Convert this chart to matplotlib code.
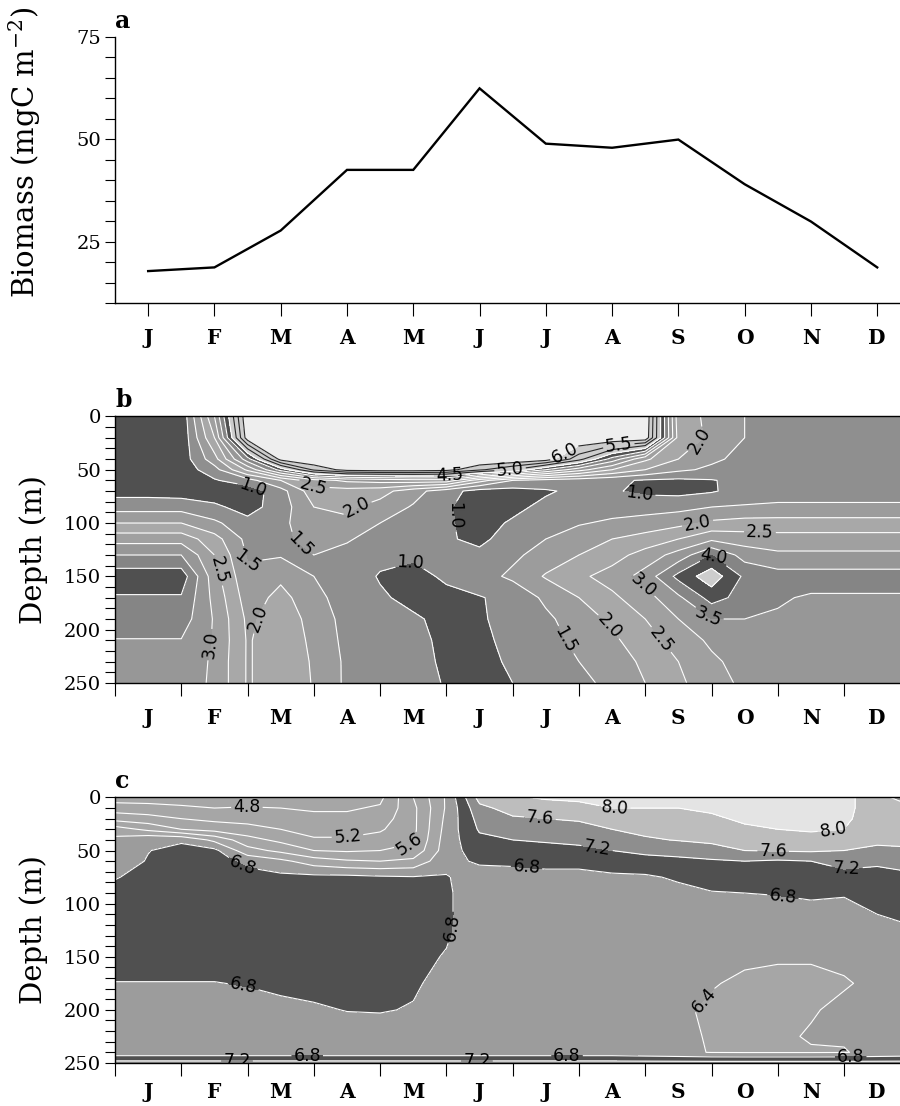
import matplotlib
matplotlib.use("Agg")
import matplotlib.pyplot as plt
import numpy as np
from matplotlib.ticker import MultipleLocator

plt.rcParams['font.family'] = ['DejaVu Serif']
plt.rcParams['mathtext.fontset'] = 'dejavuserif'

# ---------------- data ----------------
months = ['J', 'F', 'M', 'A', 'M', 'J', 'J', 'A', 'S', 'O', 'N', 'D']
biomass = [17.8, 18.7, 27.7, 42.5, 42.5, 62.4, 48.9, 47.9, 49.9, 39.0, 29.9, 18.7]

# sampling times (month units from 1 Jan) for the depth sections
time_grid = [0.0, 0.5, 1.0, 1.5, 2.0, 2.5, 3.0, 3.5, 4.0, 4.5, 5.0, 5.5, 6.0,
             6.5, 7.0, 7.5, 8.0, 8.5, 9.0, 9.5, 10.0, 10.5, 11.0, 11.5, 12.0]

depth_b = [0, 20, 40, 50, 60, 70, 85, 100, 115, 130, 150, 170, 190, 210, 230, 250]
field_b = [
    [0.5, 0.5, 0.6, 3.0, 6.5, 6.5, 6.5, 6.5, 6.5, 6.5, 6.5, 6.5, 6.5, 6.5, 6.5, 6.5, 6.5, 2.2, 1.9, 1.5, 1.3, 1.25, 1.2, 1.2, 1.2],
    [0.5, 0.5, 0.6, 2.5, 6.3, 6.5, 6.5, 6.5, 6.5, 6.5, 6.5, 6.5, 6.5, 6.5, 6.5, 6.5, 6.4, 2.3, 1.9, 1.5, 1.3, 1.25, 1.2, 1.2, 1.2],
    [0.5, 0.5, 0.7, 1.8, 3.8, 6.2, 6.5, 6.5, 6.5, 6.5, 6.5, 6.5, 6.5, 6.3, 5.2, 3.8, 2.6, 2.0, 1.6, 1.35, 1.25, 1.2, 1.2, 1.2, 1.2],
    [0.5, 0.5, 0.7, 1.3, 2.6, 4.2, 5.6, 6.2, 6.3, 6.3, 6.2, 5.6, 5.0, 4.0, 3.2, 2.5, 2.0, 1.6, 1.4, 1.3, 1.25, 1.2, 1.2, 1.2, 1.2],
    [0.6, 0.6, 0.8, 0.95, 1.3, 2.0, 2.8, 3.1, 3.2, 3.3, 3.3, 2.2, 1.5, 1.3, 1.2, 1.1, 0.95, 0.9, 0.97, 1.15, 1.2, 1.2, 1.2, 1.2, 1.2],
    [0.8, 0.8, 0.75, 0.7, 0.7, 1.3, 2.3, 2.3, 2.2, 1.7, 1.2, 0.8, 0.8, 0.95, 1.1, 1.05, 0.9, 0.85, 0.95, 1.2, 1.25, 1.25, 1.25, 1.25, 1.25],
    [1.3, 1.3, 1.3, 1.1, 0.8, 1.25, 2.0, 2.1, 1.8, 1.45, 1.05, 0.8, 0.9, 1.1, 1.2, 1.25, 1.3, 1.35, 1.5, 1.55, 1.6, 1.6, 1.6, 1.6, 1.6],
    [2.0, 2.0, 2.0, 1.6, 1.15, 1.35, 1.9, 1.9, 1.5, 1.25, 1.05, 0.85, 1.05, 1.3, 1.45, 1.6, 1.7, 1.85, 2.1, 2.2, 2.2, 2.2, 2.2, 2.2, 2.2],
    [2.8, 2.8, 2.8, 2.2, 1.35, 1.4, 1.65, 1.55, 1.3, 1.15, 1.05, 0.9, 1.2, 1.5, 1.8, 2.0, 2.2, 2.5, 2.9, 2.75, 2.7, 2.7, 2.7, 2.7, 2.7],
    [3.5, 3.5, 3.5, 2.5, 1.45, 1.45, 1.5, 1.35, 1.1, 1.05, 1.05, 1.1, 1.4, 1.7, 2.0, 2.3, 2.7, 3.2, 4.0, 3.3, 3.1, 3.1, 3.1, 3.1, 3.1],
    [4.3, 4.3, 4.3, 2.7, 1.6, 1.9, 1.5, 1.2, 0.97, 0.9, 1.05, 1.3, 1.6, 2.05, 2.4, 2.7, 3.2, 4.15, 4.8, 3.9, 3.7, 3.7, 3.7, 3.7, 3.7],
    [3.95, 3.95, 3.95, 2.85, 1.75, 2.15, 1.7, 1.2, 1.05, 0.9, 0.92, 0.97, 1.15, 1.6, 2.0, 2.4, 2.8, 3.4, 4.2, 3.8, 3.55, 3.45, 3.45, 3.45, 3.45],
    [3.75, 3.75, 3.75, 2.95, 1.9, 2.25, 1.85, 1.3, 1.15, 1.05, 0.9, 0.95, 1.15, 1.4, 1.75, 2.1, 2.5, 3.0, 3.5, 3.5, 3.45, 3.4, 3.4, 3.4, 3.4],
    [3.48, 3.48, 3.48, 2.95, 1.95, 2.3, 1.9, 1.35, 1.2, 1.1, 0.92, 0.92, 1.1, 1.35, 1.6, 1.9, 2.3, 2.7, 3.1, 3.3, 3.35, 3.35, 3.35, 3.35, 3.35],
    [3.4, 3.4, 3.4, 2.9, 1.95, 2.3, 1.95, 1.4, 1.2, 1.1, 0.95, 0.9, 1.05, 1.3, 1.5, 1.75, 2.1, 2.5, 2.9, 3.2, 3.3, 3.3, 3.3, 3.3, 3.3],
    [3.3, 3.3, 3.3, 2.9, 1.95, 2.3, 1.97, 1.4, 1.2, 1.1, 0.98, 0.9, 1.0, 1.2, 1.4, 1.6, 2.0, 2.4, 2.8, 3.1, 3.25, 3.25, 3.25, 3.25, 3.25],
]

depth_c = [0, 10, 20, 30, 40, 50, 60, 75, 90, 110, 130, 150, 175, 200, 225, 240, 250]
field_c = [
    [4.6, 4.6, 4.65, 4.65, 4.65, 4.65, 4.6, 4.6, 4.7, 5.6, 6.45, 7.75, 7.95, 8.05, 8.1, 8.2, 8.2, 8.15, 8.15, 8.2, 8.2, 8.15, 8.1, 7.8, 7.3],
    [5.0, 4.95, 4.85, 4.8, 4.82, 4.8, 4.75, 4.75, 4.85, 5.5, 6.45, 7.5, 7.75, 7.8, 7.85, 8.0, 8.0, 8.0, 8.05, 8.1, 8.15, 8.1, 8.05, 7.9, 7.7],
    [5.45, 5.35, 5.2, 5.1, 5.05, 5.0, 4.9, 4.9, 5.0, 5.5, 6.5, 7.35, 7.55, 7.6, 7.65, 7.75, 7.8, 7.85, 7.95, 8.05, 8.1, 8.1, 8.05, 7.85, 7.9],
    [6.2, 5.9, 5.6, 5.45, 5.35, 5.2, 5.05, 5.05, 5.15, 5.5, 6.55, 7.25, 7.35, 7.4, 7.45, 7.6, 7.7, 7.75, 7.85, 7.95, 8.0, 8.05, 8.0, 7.8, 7.9],
    [6.5, 6.75, 6.75, 6.3, 5.75, 5.5, 5.25, 5.25, 5.35, 5.55, 6.6, 7.1, 7.2, 7.25, 7.3, 7.4, 7.55, 7.62, 7.68, 7.75, 7.8, 7.85, 7.8, 7.7, 7.8],
    [6.6, 6.79, 6.9, 6.9, 6.15, 5.9, 5.6, 5.55, 5.6, 5.7, 6.62, 7.0, 7.0, 7.05, 7.1, 7.2, 7.3, 7.35, 7.45, 7.6, 7.63, 7.65, 7.6, 7.5, 7.5],
    [6.65, 6.82, 6.95, 6.95, 6.7, 6.5, 6.2, 6.05, 6.0, 6.1, 6.7, 6.85, 6.85, 6.9, 6.9, 6.95, 7.05, 7.1, 7.15, 7.2, 7.15, 7.2, 7.3, 7.25, 7.3],
    [6.78, 6.9, 6.95, 6.95, 6.95, 6.9, 6.9, 6.9, 6.85, 6.82, 6.82, 6.65, 6.7, 6.7, 6.7, 6.75, 6.75, 6.85, 6.95, 7.0, 7.0, 7.05, 7.1, 7.1, 7.15],
    [6.9, 6.92, 6.95, 6.95, 6.95, 6.95, 6.95, 6.95, 6.9, 6.88, 6.85, 6.6, 6.6, 6.6, 6.6, 6.65, 6.7, 6.7, 6.78, 6.8, 6.82, 6.85, 6.82, 6.9, 6.95],
    [6.95, 6.95, 6.95, 6.95, 6.95, 6.95, 6.95, 6.95, 6.95, 6.9, 6.85, 6.6, 6.6, 6.6, 6.6, 6.6, 6.6, 6.6, 6.6, 6.6, 6.65, 6.7, 6.72, 6.8, 6.85],
    [6.95, 6.95, 6.95, 6.95, 6.95, 6.95, 6.95, 6.95, 6.95, 6.9, 6.83, 6.6, 6.6, 6.6, 6.6, 6.6, 6.6, 6.6, 6.6, 6.55, 6.55, 6.6, 6.65, 6.7, 6.75],
    [6.95, 6.95, 6.95, 6.95, 6.95, 6.95, 6.95, 6.95, 6.95, 6.88, 6.78, 6.6, 6.6, 6.6, 6.6, 6.6, 6.6, 6.55, 6.5, 6.45, 6.42, 6.42, 6.45, 6.55, 6.6],
    [6.79, 6.79, 6.79, 6.79, 6.82, 6.87, 6.9, 6.92, 6.9, 6.84, 6.7, 6.6, 6.6, 6.6, 6.6, 6.6, 6.6, 6.5, 6.42, 6.35, 6.35, 6.35, 6.38, 6.45, 6.55],
    [6.65, 6.65, 6.65, 6.65, 6.67, 6.72, 6.76, 6.81, 6.82, 6.78, 6.65, 6.6, 6.6, 6.6, 6.6, 6.6, 6.6, 6.45, 6.35, 6.3, 6.33, 6.38, 6.45, 6.5, 6.55],
    [6.6, 6.6, 6.6, 6.6, 6.6, 6.62, 6.65, 6.65, 6.65, 6.63, 6.6, 6.6, 6.6, 6.6, 6.6, 6.6, 6.6, 6.45, 6.38, 6.32, 6.36, 6.42, 6.42, 6.5, 6.55],
    [6.55, 6.55, 6.55, 6.55, 6.55, 6.55, 6.55, 6.55, 6.55, 6.55, 6.55, 6.55, 6.55, 6.55, 6.55, 6.55, 6.5, 6.45, 6.39, 6.38, 6.38, 6.38, 6.39, 6.45, 6.5],
    [7.35, 7.35, 7.35, 7.35, 7.35, 7.35, 7.35, 7.35, 7.35, 7.35, 7.35, 7.35, 7.35, 7.35, 7.35, 7.35, 7.35, 7.35, 7.35, 7.35, 7.35, 7.35, 7.35, 7.35, 7.35],
]

fill_levels_b = [0.0, 1.0, 1.5, 2.0, 2.5, 3.0, 3.5, 4.0, 4.5, 6.0, 8.0]
line_levels_b = [1.0, 1.5, 2.0, 2.5, 3.0, 3.5, 4.0, 4.5, 5.0, 5.5, 6.0]
fill_levels_c = [4.0, 6.4, 6.8, 7.2, 7.6, 8.0, 9.0]
line_levels_c = [4.8, 5.2, 5.6, 6.0, 6.4, 6.8, 7.2, 7.6, 8.0]

# ---------------- styles ----------------
fill_colors_b = ['#505050', '#8f8f8f', '#9c9c9c', '#a8a8a8', '#a0a0a0', '#979797',
                 '#858585', '#505050', '#cdcdcd', '#eeeeee']
line_colors_b = ['white'] * 8 + ['#2a2a2a'] * 3
fill_colors_c = ['#a6a6a6', '#9c9c9c', '#505050', '#8e8e8e', '#bdbdbd', '#e4e4e4']

labels_b_pos = [(2.04, 74), (2.99, 67), (3.7, 90), (2.9, 112), (1.99, 136), (1.63, 143),
                (2.14, 189), (1.43, 214), (5.05, 56), (5.96, 49), (6.8, 37), (7.6, 27),
                (5.2, 93), (4.45, 136), (6.46, 220), (7.42, 199), (8.8, 21), (7.92, 72),
                (8.78, 97), (9.73, 110), (9.0, 134), (7.97, 158), (8.93, 190), (8.27, 208)]
labels_c_pos = [(1.99, 9), (3.51, 38), (4.45, 46), (1.95, 61), (1.93, 180), (5.02, 122),
                (1.84, 247), (2.9, 244), (5.46, 249), (6.82, 244), (6.41, 21), (7.54, 10),
                (7.27, 49), (6.21, 65), (9.93, 52), (10.81, 10), (11.04, 65), (10.08, 92),
                (9.0, 197), (11.1, 243)]

fig = plt.figure(figsize=(9, 11.06), dpi=100)
L, W = 0.1278, 0.8837
ax_a = fig.add_axes([L, 0.7260, W, 0.2408])
ax_b = fig.add_axes([L, 0.3825, W, 0.2410])
ax_c = fig.add_axes([L, 0.0389, W, 0.2401])

# ---------------- panel a ----------------
xc = np.arange(len(months)) + 0.5
ax_a.plot(xc, biomass, color='black', lw=1.7, solid_joinstyle='miter')
ax_a.set_xlim(0, 12)
ax_a.set_ylim(10, 75)
for s in ['top', 'right']:
    ax_a.spines[s].set_visible(False)
for s in ['left', 'bottom']:
    ax_a.spines[s].set_linewidth(1.0)
ax_a.set_xticks(xc)
ax_a.set_xticklabels(months, fontweight='bold', fontsize=14.5)
ax_a.tick_params(axis='x', length=9, width=0.8, pad=9)
ax_a.set_yticks([25, 50, 75])
ax_a.yaxis.set_minor_locator(MultipleLocator(5))
ax_a.tick_params(axis='y', which='both', length=7, width=0.8, labelsize=14, pad=3)


def depth_axes(ax, pad):
    ax.set_xlim(0, 12)
    ax.set_ylim(250, 0)
    ax.set_xticks(np.arange(13))
    ax.set_xticklabels([])
    ax.set_xticks(xc, months, minor=True)
    for t in ax.get_xticklabels(minor=True):
        t.set_fontweight('bold')
        t.set_fontsize(14.5)
    ax.tick_params(axis='x', which='major', length=9, width=0.8)
    ax.tick_params(axis='x', which='minor', length=0, pad=pad)
    ax.set_yticks([0, 50, 100, 150, 200, 250])
    ax.yaxis.set_minor_locator(MultipleLocator(10))
    ax.tick_params(axis='y', which='both', length=7, width=0.8, labelsize=14, pad=3)
    ax.spines['right'].set_visible(False)
    for s in ['left', 'bottom', 'top']:
        ax.spines[s].set_linewidth(1.0)


T = np.array(time_grid)

# ---------------- panel b ----------------
depth_axes(ax_b, 18)
Zb = np.array(field_b)
ax_b.contourf(T, np.array(depth_b), Zb, levels=fill_levels_b, colors=fill_colors_b)
csb = ax_b.contour(T, np.array(depth_b), Zb, levels=line_levels_b, colors=line_colors_b,
                   linewidths=0.8)
ax_b.clabel(csb, fmt='%.1f', fontsize=12.5, colors='black', inline=True,
            inline_spacing=2, manual=labels_b_pos)
for t in csb.labelTexts:
    t.set_family('DejaVu Sans')

# ---------------- panel c ----------------
depth_axes(ax_c, 14)
Zc = np.array(field_c)
ax_c.contourf(T, np.array(depth_c), Zc, levels=fill_levels_c, colors=fill_colors_c)
csc = ax_c.contour(T, np.array(depth_c), Zc, levels=line_levels_c, colors='white',
                   linewidths=0.8)
ax_c.clabel(csc, fmt='%.1f', fontsize=12.5, colors='black', inline=True,
            inline_spacing=2, manual=labels_c_pos)
for t in csc.labelTexts:
    t.set_family('DejaVu Sans')

# ---------------- labels ----------------
fig.text(0.028, 1 - 152 / 1106, r'Biomass (mgC m$^{-2}$)', rotation=90,
         ha='center', va='center', fontsize=21)
fig.text(0.037, 1 - 550 / 1106, 'Depth (m)', rotation=90, ha='center', va='center',
         fontsize=21)
fig.text(0.037, 1 - 930 / 1106, 'Depth (m)', rotation=90, ha='center', va='center',
         fontsize=21)
fig.text(0.128, 1 - 28 / 1106, 'a', fontweight='bold', fontsize=17, va='baseline')
fig.text(0.128, 1 - 407 / 1106, 'b', fontweight='bold', fontsize=17, va='baseline')
fig.text(0.128, 1 - 788 / 1106, 'c', fontweight='bold', fontsize=17, va='baseline')

fig.savefig('out.png', dpi=100)
